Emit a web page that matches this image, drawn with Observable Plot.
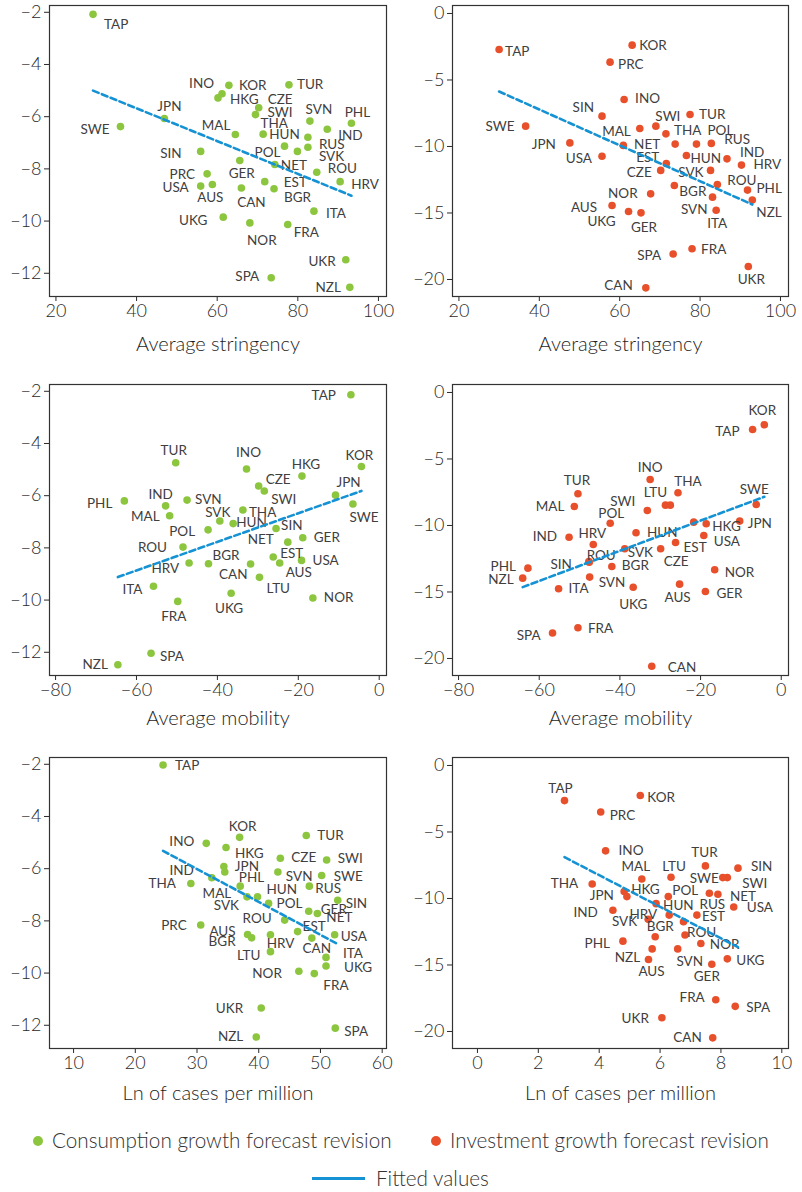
<!DOCTYPE html>
<html><head><meta charset="utf-8">
<script src="https://cdn.jsdelivr.net/npm/d3@7"></script>
<script src="https://cdn.jsdelivr.net/npm/@observablehq/plot@0.6"></script>
<style>
body{margin:0;background:#fff;font-family:Lato,'Open Sans',sans-serif;}
#wrap{position:relative;width:802px;height:1192px;overflow:hidden;}
.panel{position:absolute;}
.leg{position:absolute;font-size:20.7px;font-weight:300;color:#333;white-space:nowrap;line-height:22px;}
.leg .dot{display:inline-block;width:10px;height:10px;border-radius:50%;vertical-align:middle;margin-right:9px;position:relative;top:-2px;}
.leg .ln{display:inline-block;width:53px;height:3px;background:#1592d3;vertical-align:middle;margin-right:11px;position:relative;top:-2px;}
</style></head>
<body><div id="wrap"></div>
<script>
// ---------- data ----------
const countries = ["TAP","KOR","PRC","INO","HKG","TUR","CZE","SWI","SVN","PHL","JPN","SWE","MAL","THA","HUN","IND","RUS","SIN","POL","SVK","NET","ROU","GER","EST","HRV","USA","AUS","CAN","BGR","UKG","ITA","NOR","FRA","UKR","SPA","NZL","LTU"];

// Panel 1: average stringency vs consumption revision
const stringencyC = [29.2,62.9,57.5,61.2,60.2,77.8,70.3,69.5,83.0,93.3,46.9,36.0,64.5,71.4,76.7,87.3,82.5,55.9,79.9,82.5,74.3,84.7,65.6,71.8,90.5,55.9,58.8,66.0,74.1,61.5,84.0,68.1,77.5,91.9,73.4,92.9,null];
const consumptionS = [-2.08,-4.80,-8.19,-5.12,-5.28,-4.78,-5.66,-5.92,-6.17,-6.25,-6.07,-6.38,-6.68,-6.67,-7.13,-6.48,-6.79,-7.33,-7.33,-7.17,-7.83,-8.13,-7.68,-8.49,-8.49,-8.66,-8.60,-8.73,-8.76,-9.85,-9.62,-10.07,-10.13,-11.48,-12.17,-12.54,null];

// Panel 2: average stringency vs investment revision
const stringencyI = [30.0,63.1,57.6,61.1,60.9,77.5,70.2,69.0,83.1,91.8,47.6,36.6,65.0,71.5,76.6,86.7,82.8,55.6,79.1,82.6,73.8,84.3,65.3,71.6,90.3,55.6,58.1,66.5,73.6,62.2,84.0,67.7,78.0,92.0,73.3,93.0,null];
const investmentS = [-2.71,-2.38,-3.66,-6.47,-9.92,-7.59,-11.80,-8.47,-13.81,-13.28,-9.73,-8.47,-8.65,-9.05,-10.68,-10.93,-9.77,-7.72,-9.82,-11.80,-9.82,-12.86,-14.99,-11.28,-11.40,-10.73,-14.44,-20.63,-12.93,-14.89,-14.79,-13.56,-17.69,-19.02,-18.09,-14.03,null];

// Panel 3: average mobility vs consumption revision
const mobilityC = [-7.0,-4.4,null,-32.8,-19.1,-50.3,-29.8,-28.4,-47.5,-63.0,-10.8,-6.5,-51.8,-33.7,-36.1,-52.8,null,-25.5,-42.3,-39.4,-22.6,-48.5,-18.9,-26.2,-47.0,-19.2,-24.6,-31.8,-42.2,-36.6,-55.8,-16.4,-49.8,null,-56.4,-64.6,-29.6];
const consumptionM = [-2.13,-4.88,null,-4.98,-5.25,-4.74,-5.63,-5.82,-6.17,-6.20,-5.98,-6.32,-6.77,-6.55,-7.07,-6.39,null,-7.26,-7.31,-6.97,-7.78,-7.97,-7.61,-8.35,-8.58,-8.48,-8.58,-8.62,-8.61,-9.74,-9.47,-9.92,-10.05,null,-12.04,-12.48,-9.13];

// Panel 4: average mobility vs investment revision
const mobilityI = [-7.1,-4.2,null,-32.5,-18.6,-50.4,-29.9,-33.2,-47.5,-62.8,-10.3,-6.2,-51.3,-25.6,-36.0,-52.6,-27.5,-47.7,-42.4,-38.8,-21.7,-47.6,-18.8,-26.2,-46.6,-19.2,-25.2,-32.1,-42.0,-36.7,-55.2,-16.5,-50.4,null,-56.7,-64.1,-28.7];
const investmentM = [-2.78,-2.43,null,-6.54,-9.87,-7.62,-11.75,-8.87,-13.88,-13.21,-9.67,-8.42,-8.57,-7.54,-10.55,-10.88,-8.47,-12.72,-9.83,-11.75,-9.75,-12.76,-14.96,-11.28,-11.43,-10.75,-14.41,-20.58,-13.08,-14.64,-14.76,-13.33,-17.69,null,-18.09,-13.96,-8.47];

// Panel 5: ln of cases per million vs consumption revision
const casesC = [24.5,36.9,30.6,31.5,34.7,47.7,43.5,51.0,43.1,34.5,34.35,50.2,37.0,29.0,39.8,32.4,48.2,52.8,41.6,38.1,49.5,44.2,48.1,46.3,41.9,52.3,38.2,48.6,38.85,50.9,50.9,46.5,49.0,40.4,52.4,39.6,41.9];
const consumptionC = [-2.03,-4.80,-8.16,-5.03,-5.19,-4.73,-5.60,-5.67,-6.13,-6.13,-5.92,-6.26,-6.67,-6.57,-7.08,-6.35,-6.67,-7.21,-7.33,-7.08,-7.72,-7.97,-7.63,-8.41,-8.53,-8.53,-8.52,-8.66,-8.65,-9.73,-9.40,-9.93,-10.02,-11.34,-12.11,-12.45,-9.18];

// Panel 6: ln of cases per million vs investment revision
const casesI = [2.86,5.35,4.05,4.21,4.82,7.49,6.77,8.21,6.58,4.78,4.91,8.06,5.40,3.77,5.87,4.45,7.62,8.56,6.27,5.61,7.90,6.82,7.70,7.21,6.30,8.42,5.62,7.73,5.84,8.21,null,7.34,7.83,6.06,8.47,5.74,6.36];
const investmentC = [-2.64,-2.26,-3.50,-6.42,-9.48,-7.55,-11.75,-8.43,-13.79,-13.21,-9.86,-8.43,-8.53,-8.91,-10.39,-10.89,-9.61,-7.72,-9.86,-11.57,-9.68,-12.75,-14.94,-11.25,-11.25,-10.64,-14.59,-20.48,-12.88,-14.54,null,-13.38,-17.61,-18.97,-18.11,-13.79,-8.40];

// tick values
const ticksStringency = [20,40,60,80,100];
const ticksMobility = [-80,-60,-40,-20,0];
const ticksCasesC = [10,20,30,40,50,60];
const ticksCasesI = [0,2,4,6,8,10];
const ticksConsumption = [-12,-10,-8,-6,-4,-2];
const ticksInvestment = [-20,-15,-10,-5,0];

const xTitles = ["Average stringency","Average mobility","Ln of cases per million"];
const legendItems = ["Consumption growth forecast revision","Investment growth forecast revision","Fitted values"];

// ---------- label placement (layout only): anchor s/e/m, dx, dy in px; "-" = no label ----------
const place = [
 "TAP:s,11,10 KOR:s,10,0 PRC:e,-12,1 INO:e,-8,-10 HKG:s,12,2 TUR:s,8,0 CZE:s,9,-8 SWI:s,12,-2 SVN:m,9,-11 PHL:m,6,-11 JPN:m,5,-12 SWE:e,-11,3 MAL:e,-5,-9 THA:m,11,-10 HUN:m,0,-11 IND:s,11,6 RUS:s,11,7 SIN:e,-19,2 POL:e,-17,1 SVK:s,11,9 NET:s,6,1 ROU:s,11,-4 GER:m,2,13 EST:s,19,1 HRV:s,11,3 USA:e,-12,2 AUS:m,-2,13 CAN:m,10,15 BGR:s,10,9 UKG:e,-16,4 ITA:s,12,3 NOR:m,12,18 FRA:s,6,8 UKR:e,-10,2 SPA:e,-12,-1 NZL:e,-9,0",
 "TAP:s,6,2 KOR:s,7,1 PRC:s,8,3 INO:s,11,-1 HKG:- TUR:s,9,0 CZE:e,-9,2 SWI:m,12,-9 SVN:e,-5,13 PHL:s,9,-1 JPN:e,-14,2 SWE:e,-11,1 MAL:e,-9,3 THA:s,8,-3 HUN:s,4,3 IND:s,13,-6 RUS:s,13,-4 SIN:e,-8,-8 POL:s,11,-13 SVK:e,-7,2 NET:e,-15,1 ROU:s,10,-4 GER:m,3,15 EST:e,-7,-6 HRV:s,12,0 USA:e,-10,2 AUS:e,-15,2 CAN:e,-13,-2 BGR:s,5,6 UKG:e,-13,10 ITA:m,1,13 NOR:e,-13,0 FRA:s,9,1 UKR:m,3,13 SPA:e,-12,2 NZL:s,4,13",
 "TAP:e,-15,1 KOR:m,-2,-11 INO:m,2,-16 HKG:m,4,-11 TUR:m,-2,-12 CZE:s,7,-6 SWI:s,7,9 SVN:s,8,0 PHL:e,-12,3 JPN:m,13,-12 SWE:m,11,14 MAL:e,-10,1 THA:s,6,3 HUN:s,3,-1 IND:m,-5,-11 SIN:s,5,-3 POL:e,-13,2 SVK:m,-2,-8 NET:e,-14,-2 ROU:e,-16,1 GER:s,11,0 EST:s,7,-3 HRV:e,-10,6 USA:s,11,0 AUS:s,6,10 CAN:e,-3,11 BGR:s,4,-8 UKG:m,-2,15 ITA:e,-11,3 NOR:s,11,0 FRA:m,-4,15 SPA:s,9,3 NZL:e,-10,0 LTU:s,7,11",
 "TAP:e,-13,2 KOR:m,-2,-14 INO:m,0,-12 HKG:s,6,3 TUR:m,-1,-13 CZE:s,3,13 SWI:e,-12,-9 SVN:s,9,6 PHL:e,-12,-1 JPN:s,8,3 SWE:m,-2,-15 MAL:e,-10,0 THA:m,10,-11 HUN:s,11,0 IND:e,-12,-1 RUS:- SIN:e,-17,3 POL:m,1,-10 SVK:s,3,4 NET:- ROU:m,12,-7 GER:s,11,2 EST:s,8,5 HRV:m,-1,-11 USA:s,10,6 AUS:m,-2,14 CAN:s,16,1 BGR:s,10,-1 UKG:m,0,17 ITA:s,10,0 NOR:s,10,3 FRA:s,10,1 SPA:e,-12,3 NZL:e,-9,2 LTU:m,-10,-12",
 "TAP:s,12,1 KOR:m,3,-11 PRC:e,-14,1 INO:e,-12,-2 HKG:s,9,6 TUR:s,11,0 CZE:s,11,-1 SWI:s,11,-1 SVN:s,8,5 PHL:s,14,6 JPN:s,11,0 SWE:s,12,1 MAL:e,-9,8 THA:e,-15,0 HUN:s,9,-7 IND:e,-18,-7 RUS:s,6,3 SIN:s,8,3 POL:s,8,0 SVK:e,-8,9 NET:s,9,4 ROU:e,-13,-1 GER:s,12,-2 EST:s,5,-5 HRV:m,10,9 USA:s,6,2 AUS:e,-12,-3 CAN:m,5,11 BGR:e,-16,4 UKG:s,18,2 ITA:s,17,-4 NOR:e,-17,2 FRA:s,9,12 UKR:e,-18,1 SPA:s,9,4 NZL:e,-13,0 LTU:e,-10,4",
 "TAP:m,-4,-12 KOR:s,7,2 PRC:s,9,4 INO:s,13,0 HKG:s,7,-2 TUR:m,-1,-13 CZE:- SWI:s,15,6 SVN:m,12,13 PHL:e,-13,3 JPN:e,-13,-1 SWE:e,-4,1 MAL:m,-6,-12 THA:e,-14,0 HUN:s,7,2 IND:e,-15,2 RUS:m,3,11 SIN:s,13,-1 POL:s,4,-6 SVK:e,-11,2 NET:s,12,2 ROU:s,2,-2 GER:m,-5,12 EST:s,5,2 HRV:e,-12,0 USA:s,13,1 AUS:m,3,12 CAN:e,-11,0 BGR:m,5,-10 UKG:s,9,2 NOR:s,9,1 FRA:e,-11,-2 UKR:e,-13,1 SPA:s,11,1 NZL:e,-12,9 LTU:m,3,-11"
];
const ANCHOR = {s:"start", e:"end", m:"middle"};
function parsePlace(s){
  const o = {};
  s.trim().split(/\s+/).forEach(t => {
    const [k,v] = t.split(":");
    if (v === "-") { o[k] = null; return; }
    const [a,dx,dy] = v.split(",");
    o[k] = {anchor: ANCHOR[a], dx: +dx, dy: +dy};
  });
  return o;
}

const GREEN = "#8cc63f", RED = "#e8502b", BLUE = "#1592d3";

function panel(xs, ys, opts){
  const pl = parsePlace(opts.place);
  const data = countries.map((c,i)=>({c, x:xs[i], y:ys[i]}))
                        .filter(d => d.x != null && d.y != null);
  const groups = new Map();
  data.forEach(d => {
    const p = (d.c in pl) ? pl[d.c] : {anchor:"start", dx:7, dy:0};
    if (!p) return;
    const key = p.anchor + "|" + p.dx + "|" + p.dy;
    if (!groups.has(key)) groups.set(key, {p, rows: []});
    groups.get(key).rows.push(d);
  });
  const labels = [...groups.values()].map(({p, rows}) =>
    Plot.text(rows, {x:"x", y:"y", text:"c", textAnchor:p.anchor, dx:p.dx, dy:p.dy, fontSize:13.5, fontWeight:400, fill:"#404040"}));
  return Plot.plot({
    width: 401, height: 366,
    marginTop: 5, marginBottom: 70,
    marginLeft: opts.left ? 49 : 51, marginRight: opts.left ? 15 : 14,
    style: {fontFamily: "Lato, 'Open Sans', sans-serif", fontSize: "18px", fontWeight: 300, color: "#2a2a2a", background: "transparent", overflow: "visible"},
    x: {domain: opts.xDomain, ticks: opts.xTicks, tickSize: 5, tickPadding: 3, label: null},
    y: {domain: opts.yDomain, ticks: opts.yTicks, tickSize: 5, tickPadding: 3, label: null},
    marks: [
      Plot.frame({stroke: "#333", strokeWidth: 1.2}),
      Plot.dot(data, {x:"x", y:"y", r:3.8, fill: opts.color}),
      ...labels,
      Plot.linearRegressionY(data, {x:"x", y:"y", ci: 0, stroke: BLUE, strokeWidth: 2.6, strokeDasharray: "6,3.5"}),
      Plot.text([opts.title], {frameAnchor: "bottom", dy: opts.titleDy, text: d => d, fontSize: 20, fontWeight: 300, fill: "#1e1e1e"})
    ]
  });
}

const gDom = [-12.89, -1.74], rDom = [-21.28, 0.6];
const specs = [
  {xs: stringencyC, ys: consumptionS, xDomain:[18.4,102], xTicks: ticksStringency, yDomain:gDom, yTicks:ticksConsumption, color:GREEN, title:xTitles[0], left:true, top:0, titleDy:54},
  {xs: stringencyI, ys: investmentS, xDomain:[18.4,102], xTicks: ticksStringency, yDomain:rDom, yTicks:ticksInvestment, color:RED, title:xTitles[0], left:false, top:0, titleDy:54},
  {xs: mobilityC, ys: consumptionM, xDomain:[-81.5,1.8], xTicks: ticksMobility, yDomain:gDom, yTicks:ticksConsumption, color:GREEN, title:xTitles[1], left:true, top:379, titleDy:49},
  {xs: mobilityI, ys: investmentM, xDomain:[-81.5,1.8], xTicks: ticksMobility, yDomain:rDom, yTicks:ticksInvestment, color:RED, title:xTitles[1], left:false, top:379, titleDy:49},
  {xs: casesC, ys: consumptionC, xDomain:[6.1,60.7], xTicks: ticksCasesC, yDomain:gDom, yTicks:ticksConsumption, color:GREEN, title:xTitles[2], left:true, top:752, titleDy:51},
  {xs: casesI, ys: investmentC, xDomain:[-0.82,10.22], xTicks: ticksCasesI, yDomain:rDom, yTicks:ticksInvestment, color:RED, title:xTitles[2], left:false, top:752, titleDy:51}
];

const wrap = document.getElementById("wrap");
specs.forEach((s,i) => {
  const div = document.createElement("div");
  div.className = "panel";
  div.style.left = (s.left ? 0 : 401) + "px";
  div.style.top = s.top + "px";
  div.appendChild(panel(s.xs, s.ys, {...s, place: place[i]}));
  wrap.appendChild(div);
});

// legend
function legendRow(html, left, top){
  const d = document.createElement("div");
  d.className = "leg"; d.style.left = left + "px"; d.style.top = top + "px";
  d.innerHTML = html; wrap.appendChild(d);
}
legendRow(`<span class="dot" style="background:${GREEN}"></span>${legendItems[0]}`, 33, 1129);
legendRow(`<span class="dot" style="background:${RED}"></span>${legendItems[1]}`, 431, 1129);
legendRow(`<span class="ln"></span>${legendItems[2]}`, 312, 1167);
</script></body></html>
